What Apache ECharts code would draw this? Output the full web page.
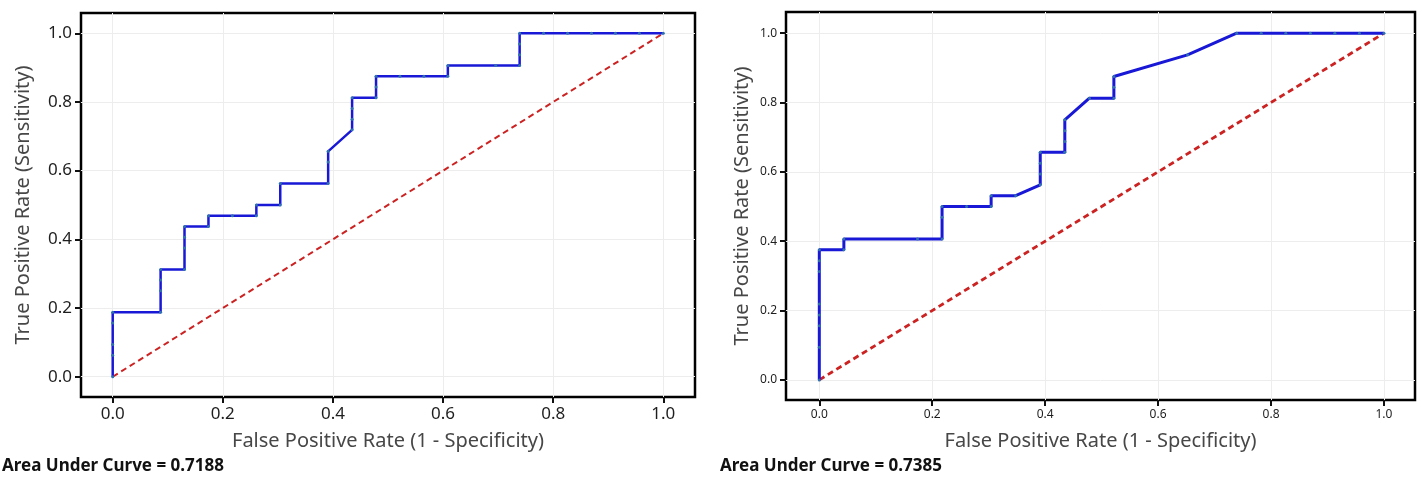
<!DOCTYPE html>
<html>
<head>
<meta charset="utf-8">
<script src="https://cdn.jsdelivr.net/npm/echarts@6/dist/echarts.min.js"></script>
<style>
html,body{margin:0;padding:0;background:#fff;}
#chart{width:1422px;height:479px;}
</style>
</head>
<body>
<div id="chart"></div>
<script>
// ---- data ----
const tickValues = [0, 0.2, 0.4, 0.6, 0.8, 1.0];

const leftFPR = [0,0,0,0,0, 0.0870,0.0870,0.0870,0.0870, 0.1304,0.1304,0.1304,0.1304, 0.1739,0.1739,
  0.2174,0.2609,0.2609, 0.3043,0.3043, 0.3913,0.3913,0.3913, 0.4348,0.4348,0.4348,0.4348,
  0.4783,0.4783,0.4783, 0.5217,0.5652,0.6087,0.6087, 0.6957,0.7391,0.7391,0.7391,0.7391,
  0.7826,0.8261,0.8696,0.9130,0.9565,1];
const leftTPR = [0,0.0625,0.0938,0.1563,0.1875, 0.1875,0.25,0.2813,0.3125, 0.3125,0.375,0.4063,0.4375, 0.4375,0.4688,
  0.4688,0.4688,0.5, 0.5,0.5625, 0.5625,0.625,0.6563, 0.7188,0.75,0.7813,0.8125,
  0.8125,0.8438,0.875, 0.875,0.875,0.875,0.9063, 0.9063,0.9063,0.9375,0.9688,1,
  1,1,1,1,1,1];

const rightFPR = [0,0,0,0,0,0,0,0, 0.0435,0.0435, 0.1739,0.2174,0.2174,0.2174, 0.2609,0.3043,0.3043,
  0.3478,0.3913,0.3913,0.3913,0.3913, 0.4348,0.4348,0.4348,0.4348, 0.4783,0.5217,0.5217,0.5217,
  0.6522,0.7391, 0.7826,0.8261,0.8696,0.9130,0.9565,1];
const rightTPR = [0,0.0938,0.1563,0.1875,0.2188,0.3125,0.3438,0.375, 0.375,0.4063, 0.4063,0.4063,0.4688,0.5, 0.5,0.5,0.5313,
  0.5313,0.5625,0.5938,0.625,0.6563, 0.6563,0.6875,0.7188,0.75, 0.8125,0.8125,0.8438,0.875,
  0.9375,1, 1,1,1,1,1,1];

const diagX = [0, 1];
const diagY = [0, 1];

const aucLeft = 'Area Under Curve = 0.7188';
const aucRight = 'Area Under Curve = 0.7385';
const xTitle = 'False Positive Rate (1 - Specificity)';
const yTitle = 'True Positive Rate (Sensitivity)';

// ---- chart ----
const FONT = '"Noto Sans", "Open Sans", sans-serif';
const pairs = (xs, ys) => xs.map((x, i) => [x, ys[i]]);

function makeAxis(gi, lo, hi, fs, gap, name) {
  return {
    gridIndex: gi, type: 'value', min: lo, max: hi,
    axisLine: { show: false, onZero: false },
    axisTick: { show: true, length: 6, customValues: tickValues, lineStyle: { color: '#111', width: 2 } },
    axisLabel: { customValues: tickValues, formatter: v => v.toFixed(1), fontSize: fs, color: '#1e1e1e', margin: 9, fontFamily: FONT },
    splitLine: { show: true, lineStyle: { color: '#ededed', width: 1 } },
    name: name, nameLocation: 'middle', nameGap: gap,
    nameTextStyle: { fontSize: 20, color: '#474747', fontFamily: FONT }
  };
}
function diagSeries(gi, w) {
  return {
    type: 'line', xAxisIndex: gi, yAxisIndex: gi, data: pairs(diagX, diagY),
    symbol: 'none', lineStyle: { color: '#cc2222', width: w, type: [6, 4] }, z: 2, silent: true
  };
}
function rocSeries(gi, xs, ys, w) {
  return {
    type: 'line', xAxisIndex: gi, yAxisIndex: gi, data: pairs(xs, ys),
    symbol: 'circle', symbolSize: 3, showSymbol: true,
    itemStyle: { color: '#2f72b0' },
    lineStyle: { color: '#1818d6', width: w }, z: 3, silent: true
  };
}

const chart = echarts.init(document.getElementById('chart'), null, { renderer: 'canvas' });
chart.setOption({
  animation: false,
  backgroundColor: '#fff',
  textStyle: { fontFamily: FONT },
  grid: [
    { left: 81, top: 13, width: 614, height: 384, show: true, borderColor: '#000', borderWidth: 2.5, containLabel: false },
    { left: 786, top: 12, width: 629, height: 388, show: true, borderColor: '#000', borderWidth: 2.5, containLabel: false }
  ],
  xAxis: [makeAxis(0, -0.0576, 1.0576, 17, 34, xTitle), makeAxis(1, -0.059, 1.055, 12, 31, xTitle)],
  yAxis: [makeAxis(0, -0.059, 1.059, 17, 48, yTitle), makeAxis(1, -0.058, 1.061, 12, 34, yTitle)],
  series: [
    diagSeries(0, 2),
    rocSeries(0, leftFPR, leftTPR, 2.5),
    diagSeries(1, 2.8),
    rocSeries(1, rightFPR, rightTPR, 3)
  ],
  graphic: [
    { type: 'text', left: 2, top: 458, style: { text: aucLeft, font: 'bold 17px ' + FONT, fill: '#111' } },
    { type: 'text', left: 720, top: 458, style: { text: aucRight, font: 'bold 17px ' + FONT, fill: '#111' } }
  ]
});
</script>
</body>
</html>
